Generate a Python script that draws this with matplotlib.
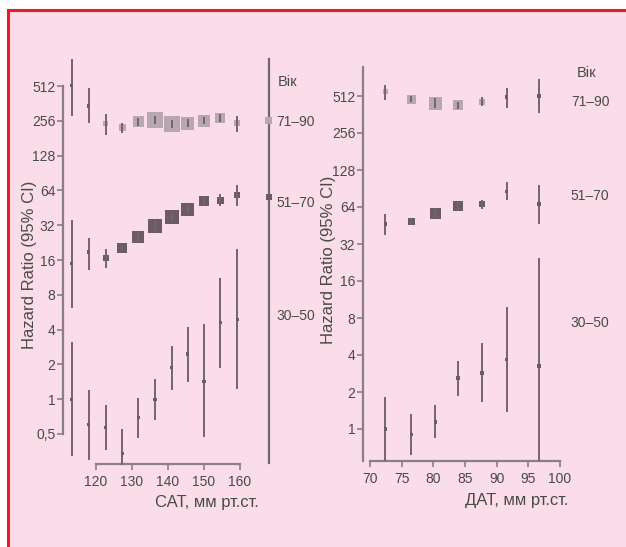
import numpy as np
import matplotlib
matplotlib.use("Agg")
import matplotlib.pyplot as plt
from matplotlib.patches import Rectangle

plt.rcParams['font.family'] = ['Liberation Sans', 'DejaVu Sans']

# ---------------- data: left panel (SBP) ----------------
sbp_x = [113.3, 118.0, 122.7, 127.3, 131.8, 136.4, 141.0, 145.5, 150.0, 154.5, 159.2]

sbp_old_hr = [520, 344, 241, 222, 250, 260, 241, 245, 256, 270, 245]
sbp_old_lo = [282, 245, 193, 200, 232, 238, 222, 226, 238, 250, 205]
sbp_old_hi = [880, 493, 294, 245, 270, 284, 262, 266, 276, 292, 282]
sbp_old_w = [0, 0, 5, 7, 11, 16, 16, 13, 12, 10, 6]

sbp_mid_hr = [15.0, 18.8, 16.7, 20.3, 25.3, 31.5, 38.0, 44.0, 52.0, 52.0, 58.5]
sbp_mid_lo = [6.2, 13.0, 13.6, 18.5, 23.0, 28.5, 34.5, 40.0, 48.0, 47.0, 47.0]
sbp_mid_hi = [35.5, 25.0, 20.0, 22.0, 27.5, 34.5, 42.0, 48.0, 56.0, 60.0, 71.0]
sbp_mid_w = [0, 0, 6, 10, 12, 14, 14, 13, 10, 7, 6]

sbp_young_hr = [1.0, 0.60, 0.57, 0.34, 0.69, 1.0, 1.87, 2.46, 1.43, 4.6, 4.9]
sbp_young_lo = [0.32, 0.30, 0.36, 0.27, 0.46, 0.66, 1.2, 1.4, 0.47, 1.87, 1.22]
sbp_young_hi = [3.1, 1.2, 0.89, 0.55, 1.02, 1.5, 2.9, 4.2, 4.5, 11.2, 20.0]

sbp_key_x = 168.0
sbp_key_hr = [256, 56]
sbp_key_w = [7, 6]
sbp_key_range = [0.28, 880]

# ---------------- data: right panel (DBP) ----------------
dbp_x = [72.4, 76.5, 80.3, 83.9, 87.7, 91.6, 96.7]

dbp_old_hr = [552, 484, 448, 433, 458, 502, 512]
dbp_old_lo = [475, 455, 410, 405, 425, 410, 372]
dbp_old_hi = [630, 510, 490, 460, 500, 595, 704]
dbp_old_w = [5, 9, 13, 10, 6, 0, 0]

dbp_mid_hr = [46.5, 49.0, 57.0, 65.5, 67.7, 86.0, 67.6]
dbp_mid_lo = [37.8, 46.0, 52.0, 61.0, 62.0, 73.0, 46.5]
dbp_mid_hi = [56.0, 52.0, 62.0, 70.0, 73.0, 102.0, 96.0]
dbp_mid_w = [0, 7, 11, 10, 6, 0, 0]

dbp_young_hr = [1.0, 0.90, 1.14, 2.6, 2.85, 3.7, 3.25]
dbp_young_lo = [0.55, 0.61, 0.85, 1.85, 1.66, 1.37, 0.55]
dbp_young_hi = [1.82, 1.33, 1.57, 3.6, 5.0, 9.8, 24.6]

sbp_yticks = [0.5, 1, 2, 4, 8, 16, 32, 64, 128, 256, 512]
sbp_ylabels = ['0,5', '1', '2', '4', '8', '16', '32', '64', '128', '256', '512']
sbp_xticks = [120, 130, 140, 150, 160]
dbp_yticks = [1, 2, 4, 8, 16, 32, 64, 128, 256, 512]
dbp_xticks = [70, 75, 80, 85, 90, 95, 100]

groups = ['71–90', '51–70', '30–50']

# ---------------- styling ----------------
W, H = 626, 547
BG = '#fadde8'
LINE = '#74646e'
SPINE = '#8c7e87'
LIGHT = '#b8a6b1'
DARK = '#6a5b65'
TXT = '#4a4a4a'

fig = plt.figure(figsize=(W / 100, H / 100), dpi=100)
fig.patch.set_facecolor('white')
fig.patches.append(Rectangle((8 / W, -0.05), 1.2, 1 - 10 / H + 0.05,
                             transform=fig.transFigure, facecolor=BG,
                             edgecolor='#ec1c26', linewidth=2.2, zorder=-10))


def px_axes(l, r, t, b):
    ax = fig.add_axes([l / W, 1 - b / H, (r - l) / W, (b - t) / H])
    ax.set_facecolor('none')
    return ax


def side(px):
    return (px * 0.72) ** 2


def draw_group(ax, x, hr, lo, hi, w, color):
    for xi, h, l, u, wi in zip(x, hr, lo, hi, w):
        ax.plot([xi, xi], [l, u], color=LINE, lw=1.4, zorder=3, clip_on=False,
                solid_capstyle='butt')
        if wi > 0:
            ax.scatter([xi], [h], s=side(wi), marker='s', color=color,
                       edgecolors='none', zorder=2, clip_on=False)
        else:
            ax.scatter([xi], [h], s=side(3.2), marker='s', color=DARK,
                       edgecolors='none', zorder=4, clip_on=False)


def style_axis(ax):
    for s in ['top', 'right']:
        ax.spines[s].set_visible(False)
    for s in ['left', 'bottom']:
        ax.spines[s].set_color(SPINE)
        ax.spines[s].set_linewidth(1.6)
    ax.tick_params(colors=SPINE, labelcolor=TXT, labelsize=10, length=4,
                   width=1.2)
    ax.tick_params(axis='y', pad=1.5)
    ax.tick_params(axis='x', pad=4)
    ax.minorticks_off()


def to_axes(ax, px, py):
    # figure-pixel position -> axes fraction coordinates
    inv = ax.transAxes.inverted()
    return inv.transform(fig.transFigure.transform((px / W, 1 - py / H)))


# ---------------- left panel ----------------
ax1 = px_axes(63, 275, 55, 464)
ax1.set_yscale('log', base=2)
ax1.set_xlim(120 + (63 - 96) / 3.6, 120 + (275 - 96) / 3.6)
ax1.set_ylim(2 ** (9 - (464 - 86) / 34.8), 2 ** (9 + (86 - 55) / 34.8))
draw_group(ax1, sbp_x, sbp_old_hr, sbp_old_lo, sbp_old_hi, sbp_old_w, LIGHT)
draw_group(ax1, sbp_x, sbp_mid_hr, sbp_mid_lo, sbp_mid_hi, sbp_mid_w, DARK)
draw_group(ax1, sbp_x, sbp_young_hr, sbp_young_lo, sbp_young_hi,
           [0] * len(sbp_x), DARK)
ax1.plot([sbp_key_x, sbp_key_x], sbp_key_range, color=LINE, lw=1.6, zorder=3,
         clip_on=False)
for h, wi, c in zip(sbp_key_hr, sbp_key_w, [LIGHT, DARK]):
    ax1.scatter([sbp_key_x], [h], s=side(wi), marker='s', color=c,
                edgecolors='none', zorder=4, clip_on=False)
style_axis(ax1)
ax1.set_yticks(sbp_yticks)
ax1.set_yticklabels(sbp_ylabels)
ax1.set_xticks(sbp_xticks)
ax1.set_xticklabels([str(v) for v in sbp_xticks])
ax1.spines['left'].set_bounds(0.5, 512)
ax1.spines['bottom'].set_bounds(120, 160)
ax1.set_xlabel('САТ, мм рт.ст.', fontsize=12, color=TXT)
ax1.set_ylabel('Hazard Ratio (95% CI)', fontsize=12, color=TXT)
ax1.xaxis.set_label_coords(*to_axes(ax1, 207, 503))
ax1.xaxis.label.set_va('center')
ax1.yaxis.set_label_coords(*to_axes(ax1, 30, 265))
ax1.yaxis.label.set_va('center')

fig.text(288 / W, 1 - 82 / H, 'Вік', fontsize=10.5, color=TXT,
         ha='center', va='center')
for txt, py in zip(groups, [122, 203, 316]):
    fig.text(276 / W, 1 - py / H, txt, fontsize=10, color=TXT,
             ha='left', va='center')

# ---------------- right panel ----------------
ax2 = px_axes(363, 565, 67, 461)
ax2.set_yscale('log', base=2)
ax2.set_xlim(70 + (363 - 370) / 6.333, 70 + (565 - 370) / 6.333)
ax2.set_ylim(2 ** (0 - (461 - 429) / 37.0), 2 ** (9 + (96 - 67) / 37.0))
draw_group(ax2, dbp_x, dbp_old_hr, dbp_old_lo, dbp_old_hi, dbp_old_w, LIGHT)
draw_group(ax2, dbp_x, dbp_mid_hr, dbp_mid_lo, dbp_mid_hi, dbp_mid_w, DARK)
draw_group(ax2, dbp_x, dbp_young_hr, dbp_young_lo, dbp_young_hi,
           [0] * len(dbp_x), DARK)
style_axis(ax2)
ax2.set_yticks(dbp_yticks)
ax2.set_yticklabels([str(v) for v in dbp_yticks])
ax2.set_xticks(dbp_xticks)
ax2.set_xticklabels([str(v) for v in dbp_xticks])
ax2.spines['bottom'].set_bounds(70, 100)
ax2.set_xlabel('ДАТ, мм рт.ст.', fontsize=12, color=TXT)
ax2.set_ylabel('Hazard Ratio (95% CI)', fontsize=12, color=TXT)
ax2.xaxis.set_label_coords(*to_axes(ax2, 517, 500))
ax2.xaxis.label.set_va('center')
ax2.yaxis.set_label_coords(*to_axes(ax2, 328, 260))
ax2.yaxis.label.set_va('center')

fig.text(587 / W, 1 - 73 / H, 'Вік', fontsize=10.5, color=TXT,
         ha='center', va='center')
for txt, py in zip(groups, [102, 196, 323]):
    fig.text(590 / W, 1 - py / H, txt, fontsize=10, color=TXT,
             ha='center', va='center')

fig.savefig('out.png', dpi=100, facecolor=fig.get_facecolor())
